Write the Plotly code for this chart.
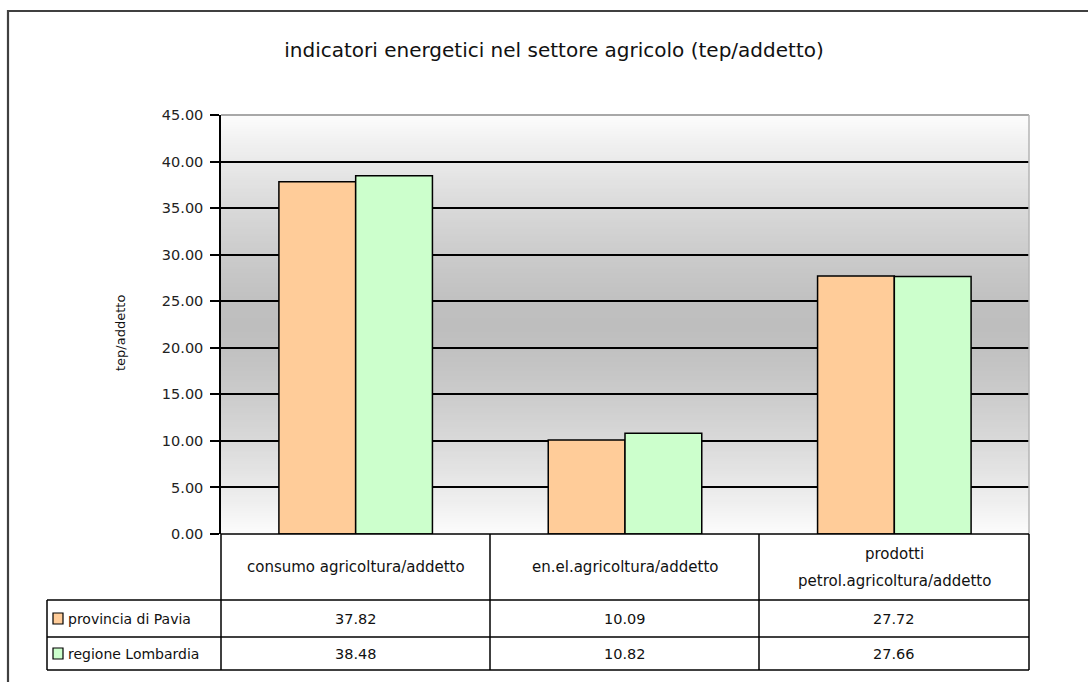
import plotly.graph_objects as go

# ---- data ----
categories = [
    "consumo agricoltura/addetto",
    "en.el.agricoltura/addetto",
    "prodotti petrol.agricoltura/addetto",
]
category_lines = [
    ["consumo agricoltura/addetto"],
    ["en.el.agricoltura/addetto"],
    ["prodotti", "petrol.agricoltura/addetto"],
]
series_names = ["provincia di Pavia", "regione Lombardia"]
pavia = [37.82, 10.09, 27.72]
lombardia = [38.48, 10.82, 27.66]
series_values = [pavia, lombardia]
series_colors = ["#FFCC99", "#CCFFCC"]
y_ticks = [0, 5, 10, 15, 20, 25, 30, 35, 40, 45]

W, H = 1088, 682
FONT = "DejaVu Sans"

# pixel -> paper helpers for layout furniture (page is drawn with an 8px top
# inset and an effective drawing height of 666px)
OFF_Y, EFF_H = 8, 666

def px(x):
    return x / W

def py(y):
    return 1 - (y - OFF_Y) / EFF_H

PLOT_L, PLOT_R, PLOT_T, PLOT_B = 221, 1029, 115, 534
TAB_L = 47
ROW1, ROW2, ROW3 = 600, 637, 670
COLS = [221, 490, 759, 1029]

fig = go.Figure()
for name, vals, col in zip(series_names, series_values, series_colors):
    fig.add_trace(go.Bar(
        x=categories, y=vals, name=name,
        marker=dict(color=col, line=dict(color="black", width=1.5)),
        showlegend=False,
    ))

shapes = []

# vertical gray gradient behind the plot area (light at top/bottom, darker mid)
ymax = y_ticks[-1]
n_bands = 180
step = ymax / n_bands
for i in range(n_bands):
    y0 = i * step
    yc = y0 + step / 2
    t = abs(yc - ymax / 2) / (ymax / 2)
    g = int(round(190 + (252 - 190) * t ** 1.4))
    shapes.append(dict(
        type="rect", xref="paper", yref="y",
        x0=px(PLOT_L), x1=px(PLOT_R), y0=y0, y1=min(ymax, y0 + step * 1.6),
        fillcolor=f"rgb({g},{g},{g})", line=dict(width=0), layer="below",
    ))

def line(x0, y0, x1, y1, color="black", width=1.5, layer="above"):
    shapes.append(dict(
        type="line", xref="paper", yref="paper",
        x0=px(x0), y0=py(y0), x1=px(x1), y1=py(y1),
        line=dict(color=color, width=width), layer=layer,
    ))

# plot-area border at top and right (gray)
line(PLOT_L, PLOT_T, PLOT_R, PLOT_T, color="#a8a8a8", width=2)
line(PLOT_R, PLOT_T, PLOT_R, PLOT_B, color="#b4b4b4", width=1.5)

# data table grid
line(PLOT_L, PLOT_B, PLOT_R, PLOT_B)
line(PLOT_L, PLOT_B, PLOT_L, ROW3)
for yy in (ROW1, ROW2, ROW3):
    line(TAB_L, yy, PLOT_R, yy)
line(TAB_L, ROW1, TAB_L, ROW3)
for xx in COLS[1:]:
    line(xx, PLOT_B, xx, ROW3)

# outer chart frame
shapes.append(dict(
    type="path", xref="paper", yref="paper",
    path=f"M {px(8)},{py(H + 40)} L {px(8)},{py(11)} L {px(W + 20)},{py(11)}",
    line=dict(color="#404040", width=2.2),
))

annotations = []

# category labels in the header row
for cat, lines_ in zip(categories, category_lines):
    cy = (PLOT_B + ROW1) / 2
    spacing = 27
    start = cy - spacing * (len(lines_) - 1) / 2
    for k, txt in enumerate(lines_):
        annotations.append(dict(
            x=cat, xref="x", y=py(start + k * spacing), yref="paper",
            text=txt, showarrow=False, xanchor="center", yanchor="middle",
            font=dict(family=FONT, size=15, color="#111"),
        ))

# series rows: legend key, name, values
row_tops = [ROW1, ROW2]
row_bots = [ROW2, ROW3]
for name, vals, col, top, bot in zip(series_names, series_values, series_colors, row_tops, row_bots):
    cy = (top + bot) / 2
    shapes.append(dict(
        type="rect", xref="paper", yref="paper",
        x0=px(53), x1=px(63), y0=py(cy - 5.5), y1=py(cy + 5.5),
        fillcolor=col, line=dict(color="black", width=1.2),
    ))
    annotations.append(dict(
        x=px(66), xref="paper", y=py(cy), yref="paper",
        text=name, showarrow=False, xanchor="left", yanchor="middle",
        font=dict(family=FONT, size=14, color="#111"),
    ))
    for cat, v in zip(categories, vals):
        annotations.append(dict(
            x=cat, xref="x", y=py(cy), yref="paper",
            text=f"{v:.2f}", showarrow=False, xanchor="center", yanchor="middle",
            font=dict(family=FONT, size=14.5, color="#111"),
        ))

# y-axis title
annotations.append(dict(
    x=px(120), xref="paper", y=py(333), yref="paper",
    text="tep/addetto", showarrow=False, textangle=-90,
    xanchor="center", yanchor="middle",
    font=dict(family=FONT, size=13, color="#111"),
))

fig.update_layout(
    width=W, height=H,
    margin=dict(l=0, r=0, t=0, b=0),
    paper_bgcolor="white",
    plot_bgcolor="rgba(0,0,0,0)",
    barmode="group", bargap=0.43, bargroupgap=0,
    title=dict(
        text="indicatori energetici nel settore agricolo (tep/addetto)",
        x=px(554), xref="paper", xanchor="center",
        y=py(50), yref="paper", yanchor="middle",
        font=dict(family=FONT, size=20, color="#111"),
    ),
    xaxis=dict(
        domain=[px(PLOT_L), px(PLOT_R)],
        showticklabels=False, ticks="", showgrid=False,
        showline=False, zeroline=False,
    ),
    yaxis=dict(
        domain=[py(PLOT_B), py(PLOT_T)],
        range=[0, ymax], tickvals=y_ticks, tickformat=".2f",
        ticks="outside", ticklen=9, tickwidth=1.5, tickcolor="black",
        ticklabelstandoff=4,
        showline=True, linecolor="black", linewidth=1.5,
        showgrid=True, gridcolor="black", gridwidth=1.5,
        zeroline=False,
        tickfont=dict(family=FONT, size=14.5, color="#222"),
    ),
    shapes=shapes,
    annotations=annotations,
)

fig.write_html("out.html")
